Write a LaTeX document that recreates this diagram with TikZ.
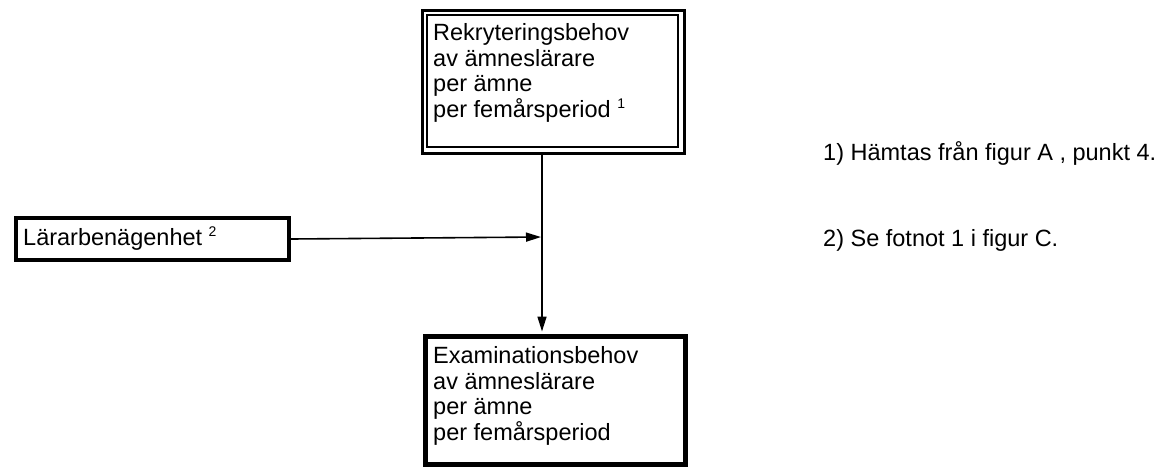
\documentclass[tikz,border=0pt]{standalone}
\usepackage{fontspec}
\setmainfont{Liberation Sans}
\usetikzlibrary{arrows.meta}
\newcommand{\fnmark}[1]{ {\fontsize{14}{14}\selectfont\raisebox{9pt}{#1}}}
\begin{document}
\begin{tikzpicture}[x=1pt,y=-1pt,
  txt/.style={font=\fontsize{23.5}{25.5}\selectfont, inner sep=0pt, align=left},
  boxbase/.style={draw, inner sep=0pt, anchor=north west},
  conn/.style={line width=1.6pt, -{Triangle[length=15pt,width=9pt]}}]
\useasboundingbox (0,0) rectangle (1175,467);
\fill[white] (0,0) rectangle (1175,467);
% top double box
\node[boxbase, line width=3pt, minimum width=262pt, minimum height=143pt] (rekout) at (420.5,8.5) {};
\node[boxbase, line width=2pt, minimum width=251pt, minimum height=132pt] (rekin) at (426,14) {};
\node[txt, anchor=north west] (rektext) at (433,23.5)
  {Rekryteringsbehov\\av ämneslärare\\per ämne\\per femårsperiod\fnmark{1}};
% bottom box
\node[boxbase, line width=5pt, minimum width=260.5pt, minimum height=128.5pt] (exbox) at (422.5,333.5) {};
\node[txt, anchor=north west] (extext) at (433,346.5)
  {Examinationsbehov\\av ämneslärare\\per ämne\\per femårsperiod};
% left box
\node[boxbase, line width=4pt, minimum width=273pt, minimum height=42pt] (lbox) at (14,216) {};
\node[txt, anchor=base west] (ltext) at (23,245) {Lärarbenägenhet\fnmark{2}};
% footnotes
\node[txt, anchor=base west] (fn1) at (823,160) {1) Hämtas från figur A , punkt 4.};
\node[txt, anchor=base west] (fn2) at (823,246) {2) Se fotnot 1 i figur C.};
% connectors
\coordinate (vx) at (542,0);
\coordinate (join) at (542,237);
\draw[conn, shorten >=2pt] (rekout.south -| vx) -- (exbox.north -| vx);
\draw[conn, shorten >=1pt] (lbox.east) -- (join);
\end{tikzpicture}
\end{document}
